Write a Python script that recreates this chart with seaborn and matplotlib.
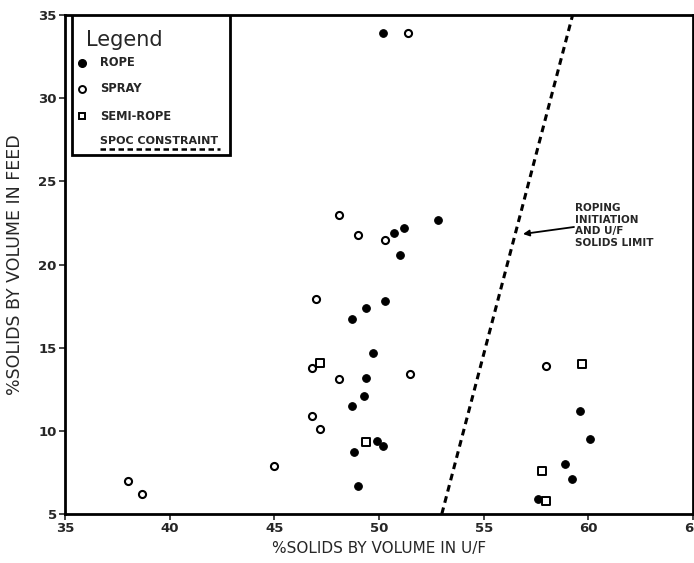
import matplotlib
matplotlib.use("Agg")
import matplotlib.pyplot as plt
import seaborn as sns
import pandas as pd
from matplotlib.patches import Rectangle
from matplotlib.lines import Line2D

# % solids by volume: underflow (x) vs feed (y), by discharge mode
rope_uf = [50.2, 50.7, 51.2, 52.8, 51.0, 50.3, 49.4, 48.7, 49.7, 49.4, 49.3,
           48.7, 49.9, 50.2, 48.8, 49.0, 59.6, 60.1, 58.9, 59.2, 57.6]
rope_feed = [33.9, 21.9, 22.2, 22.7, 20.6, 17.8, 17.4, 16.7, 14.7, 13.2, 12.1,
             11.5, 9.4, 9.1, 8.7, 6.7, 11.2, 9.5, 8.0, 7.1, 5.9]

spray_uf = [51.4, 48.1, 49.0, 50.3, 47.0, 46.8, 48.1, 51.5, 46.8, 47.2, 45.0,
            38.0, 38.7, 58.0]
spray_feed = [33.9, 23.0, 21.8, 21.5, 17.9, 13.8, 13.1, 13.4, 10.9, 10.1, 7.9,
              7.0, 6.2, 13.9]

semi_uf = [47.2, 49.4, 59.7, 57.8, 58.0]
semi_feed = [14.1, 9.3, 14.0, 7.6, 5.8]

# SPOC constraint: roping initiation / U/F solids limit
spoc_uf = [53.0, 59.25]
spoc_feed = [5.0, 35.0]

x_ticks = [35, 40, 45, 50, 55, 60, 65]
y_ticks = [5, 10, 15, 20, 25, 30, 35]

sns.set_style("white")
plt.rcParams["font.family"] = ["DejaVu Sans"]

fig = plt.figure(figsize=(6.94, 5.63), dpi=100)
ax = fig.add_axes([65 / 694, 1 - 514 / 563, (693 - 65) / 694, (514 - 15) / 563])

rope = pd.DataFrame({"uf": rope_uf, "feed": rope_feed})
spray = pd.DataFrame({"uf": spray_uf, "feed": spray_feed})
semi = pd.DataFrame({"uf": semi_uf, "feed": semi_feed})
spoc = pd.DataFrame({"uf": spoc_uf, "feed": spoc_feed})

sns.lineplot(data=spoc, x="uf", y="feed", ax=ax, color="black", lw=2.2,
             linestyle=(0, (2.2, 1.6)), sort=False)
sns.scatterplot(data=rope, x="uf", y="feed", ax=ax, marker="o", s=30,
                color="black", edgecolor="black", linewidth=0.8, zorder=3)
sns.scatterplot(data=spray, x="uf", y="feed", ax=ax, marker="o", s=26,
                facecolor="white", edgecolor="black", linewidth=1.5, zorder=3)
sns.scatterplot(data=semi, x="uf", y="feed", ax=ax, marker="s", s=30,
                facecolor="white", edgecolor="black", linewidth=1.4, zorder=3)

ax.set_xlim(35, 65)
ax.set_ylim(5, 35)
ax.set_xticks(x_ticks)
ax.set_yticks(y_ticks)
ax.tick_params(direction="out", length=4, width=1.2, labelsize=9.5, pad=2,
               bottom=True, left=True)
for lab in ax.get_xticklabels() + ax.get_yticklabels():
    lab.set_fontweight("bold")
for sp in ax.spines.values():
    sp.set_visible(True)
    sp.set_color("black")
    sp.set_linewidth(2)

ax.set_xlabel("%SOLIDS BY VOLUME IN U/F", fontsize=11, labelpad=4)
ax.set_ylabel("%SOLIDS BY VOLUME IN FEED", fontsize=12.5, labelpad=10)

# Legend box
def ax_xy(px, py):
    return ((px - 65) / (693 - 65), (514 - py) / (514 - 15))

x0, y0 = ax_xy(72, 155)
x1, y1 = ax_xy(230, 15)
ax.add_patch(Rectangle((x0, y0), x1 - x0, y1 - y0, transform=ax.transAxes,
                       facecolor="white", edgecolor="black", lw=2, zorder=5))
tx, ty = ax_xy(86, 40)
ax.text(tx, ty, "Legend", transform=ax.transAxes, fontsize=15,
        va="center", ha="left", zorder=6)

entries = [("ROPE", 63, dict(marker="o", ms=5.5, mfc="black", mec="black")),
           ("SPRAY", 89, dict(marker="o", ms=5, mfc="white", mec="black", mew=1.4)),
           ("SEMI-ROPE", 116, dict(marker="s", ms=5, mfc="white", mec="black", mew=1.4))]
for label, py, style in entries:
    mx, my = ax_xy(82, py)
    ax.add_line(Line2D([mx], [my], transform=ax.transAxes, ls="none",
                       zorder=6, **style))
    lx, _ = ax_xy(100, py)
    ax.text(lx, my, label, transform=ax.transAxes, fontsize=8.3,
            fontweight="bold", va="center", ha="left", zorder=6)

lx, ly = ax_xy(100, 141)
ax.text(lx, ly, "SPOC CONSTRAINT", transform=ax.transAxes, fontsize=8.0,
        fontweight="bold", va="center", ha="left", zorder=6)
ux0, uy = ax_xy(100, 149)
ux1, _ = ax_xy(220, 149)
ax.add_line(Line2D([ux0, ux1], [uy, uy], transform=ax.transAxes, color="black",
                   lw=1.8, linestyle=(0, (2.2, 1.4)), zorder=6))

# Annotation for the constraint line
hx, hy = ax_xy(523, 234)
tx, ty = ax_xy(574, 227)
ax.annotate("", xy=(hx, hy), xytext=(tx, ty), xycoords="axes fraction",
            textcoords="axes fraction",
            arrowprops=dict(arrowstyle="-|>", color="black", lw=1.3,
                            mutation_scale=9, shrinkA=0, shrinkB=0))
ax.text(*ax_xy(575, 203), "ROPING\nINITIATION\nAND U/F\nSOLIDS LIMIT",
        transform=ax.transAxes, fontsize=7.5, fontweight="bold",
        va="top", ha="left", linespacing=1.2)

fig.savefig("out.png", dpi=100)
